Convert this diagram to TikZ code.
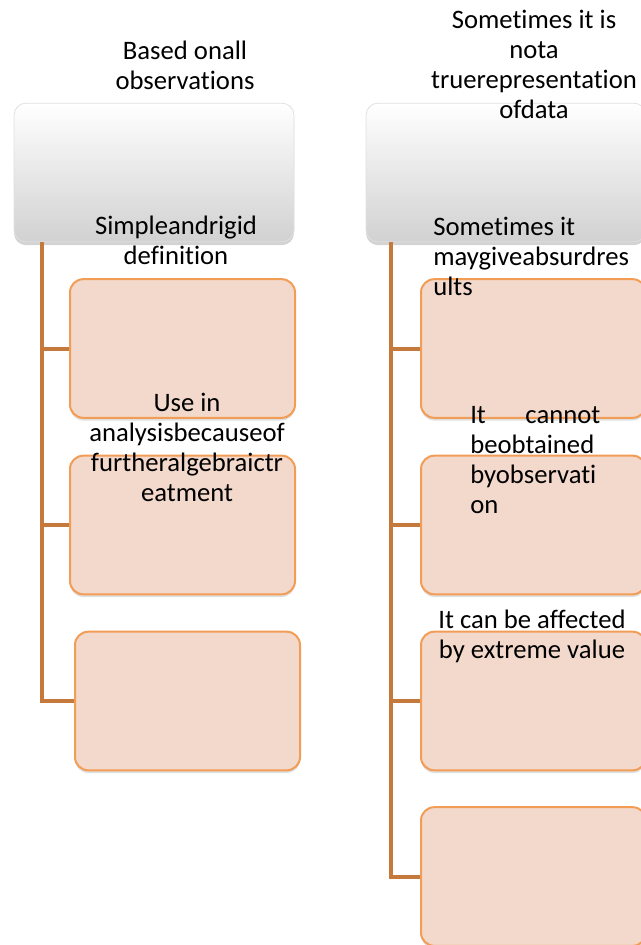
\documentclass[tikz,border=0pt]{standalone}
\usepackage{fontspec}
\setmainfont{Carlito}[Ligatures=NoCommon]
\usetikzlibrary{shadows}

\definecolor{trunkbrown}{RGB}{197,122,60}
\definecolor{boxfill}{RGB}{243,217,204}
\definecolor{boxline}{RGB}{242,157,86}

\begin{document}
\begin{tikzpicture}[
    x=0.75pt, y=-0.75pt,
    font=\fontsize{20}{22.5}\selectfont,
    headbox/.style={draw=black!12, line width=0.6pt, rounded corners=9pt,
      minimum width=210pt, minimum height=104pt, inner sep=0pt,
      top color=white, middle color=white, bottom color=black!18,
      drop shadow={opacity=0.35, shadow xshift=0pt, shadow yshift=-2.5pt}},
    childbox/.style={draw=boxline, line width=1.5pt, fill=boxfill, rounded corners=10pt,
      minimum width=168.75pt, minimum height=104pt, inner sep=0pt,
      drop shadow={opacity=0.25, shadow xshift=0pt, shadow yshift=-2pt}},
    branch/.style={draw=trunkbrown, line width=3pt},
    txt/.style={align=center, inner sep=0pt},
  ]
  \useasboundingbox (0,0) rectangle (640,945);

  % --- Left column ---
  \node[headbox] (lhead) at (154,172.5) {};
  \path (lhead.south west) ++(28,0) coordinate (ltop);
  \foreach \n/\cx/\cy in {l1/182.5/348.5, l2/182.5/525, l3/187.5/701} {
    \node[childbox] (\n) at (\cx,\cy) {};
  }
  \foreach \n in {l1,l2,l3} {
    \draw[branch] (ltop) |- (\n.west);
  }

  % --- Right column ---
  \node[headbox] (rhead) at (506,172.5) {};
  \path (rhead.south west) ++(25,0) coordinate (rtop);
  \foreach \n/\cy in {r1/348.5, r2/525, r3/701, r4/876.5} {
    \node[childbox] (\n) at (533.5,\cy) {};
  }
  \foreach \n in {r1,r2,r3,r4} {
    \draw[branch] (rtop) |- (\n.west);
  }

  % --- Texts (placed as printed, over the boxes) ---
  \node[txt] (tbased) at (185,65) {Based onall\\observations};
  \node[txt] (tsimple) at (176,240) {Simpleandrigid\\definition};
  \node[txt] (tuse) at (187,447) {Use in\\analysisbecauseof\\furtheralgebraictr\\eatment};
  \node[txt] (ttrue) at (534,64) {Sometimes it is\\nota\\truerepresentation\\ofdata};
  \node[txt, align=left, anchor=west] (tabsurd) at (433,256)
    {Sometimes it\\maygiveabsurdres\\ults};
  \node[txt, align=left, anchor=west] (tobtain) at (470,460)
    {\hbox to 97.5pt{It\hfill cannot}\\beobtained\\byobservati\\on};
  \node[txt] (textreme) at (532,636) {It can be affected\\by extreme value};
\end{tikzpicture}
\end{document}
